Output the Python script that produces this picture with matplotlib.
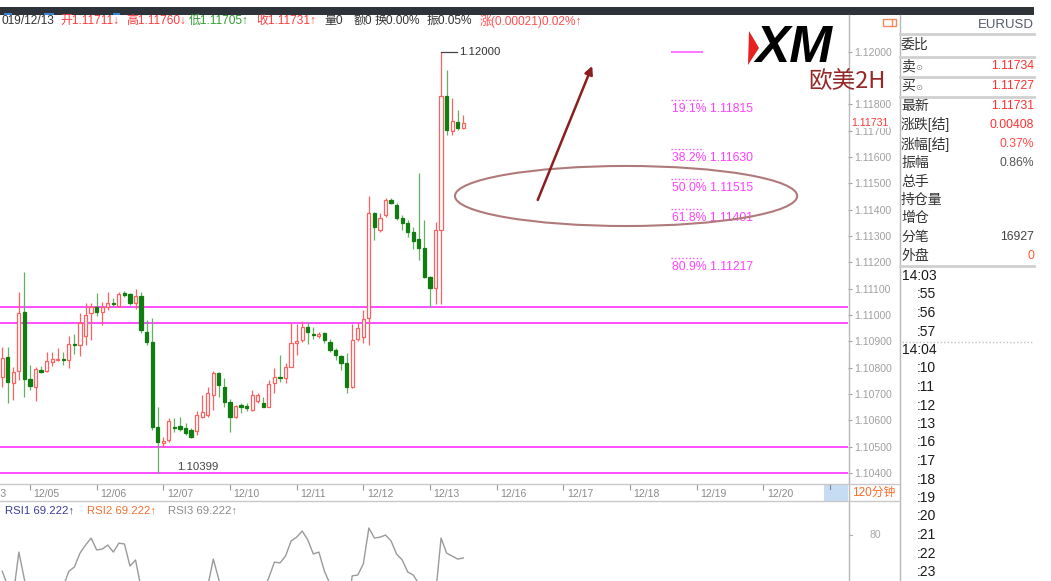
import matplotlib
matplotlib.use('Agg')
import matplotlib.pyplot as plt
from matplotlib.patches import Rectangle, Ellipse, Polygon
from matplotlib.ticker import FuncFormatter

W, H = 1051, 581
plt.rcParams['font.family'] = ['Liberation Sans', 'Noto Sans CJK SC', 'DejaVu Sans']

# ---------------- data ----------------
opens = [1.10766, 1.10839, 1.10743, 1.10789, 1.11010, 1.10756, 1.10728, 1.10791, 1.10789, 1.10823,
         1.10829, 1.10832, 1.10829, 1.10890, 1.10886, 1.10920, 1.11006, 1.11032, 1.11013, 1.11029,
         1.11044, 1.11034, 1.11082, 1.11080, 1.11047, 1.11072, 1.10937, 1.10899, 1.10573, 1.10515,
         1.10525, 1.10576, 1.10578, 1.10570, 1.10563, 1.10560, 1.10614, 1.10620, 1.10696, 1.10778,
         1.10725, 1.10671, 1.10614, 1.10657, 1.10653, 1.10639, 1.10673, 1.10667, 1.10652, 1.10740,
         1.10766, 1.10759, 1.10804, 1.10895, 1.10905, 1.10955, 1.10928, 1.10920, 1.10930, 1.10899,
         1.10867, 1.10844, 1.10819, 1.10728, 1.10907, 1.10917, 1.10987, 1.11386, 1.11323, 1.11380,
         1.11437, 1.11418, 1.11367, 1.11350, 1.11316, 1.11290, 1.11253, 1.11145, 1.11101, 1.11322,
         1.11833, 1.11698, 1.11734, 1.11711]
highs = [1.10880, 1.10880, 1.10804, 1.11089, 1.11165, 1.10810, 1.10801, 1.10806, 1.10861, 1.10861,
         1.10873, 1.10861, 1.10920, 1.10928, 1.11006, 1.11044, 1.11044, 1.11082, 1.11051, 1.11089,
         1.11063, 1.11089, 1.11092, 1.11085, 1.11098, 1.11089, 1.10981, 1.10987, 1.10652, 1.10535,
         1.10607, 1.10607, 1.10614, 1.10588, 1.10570, 1.10637, 1.10696, 1.10725, 1.10789, 1.10785,
         1.10759, 1.10680, 1.10659, 1.10667, 1.10665, 1.10715, 1.10702, 1.10690, 1.10753, 1.10797,
         1.10848, 1.10816, 1.10968, 1.10966, 1.10978, 1.10974, 1.10955, 1.10937, 1.10937, 1.10907,
         1.10873, 1.10848, 1.10854, 1.10966, 1.10971, 1.11019, 1.11452, 1.11392, 1.11386, 1.11443,
         1.11443, 1.11424, 1.11380, 1.11360, 1.11335, 1.11540, 1.11361, 1.11147, 1.11354, 1.12000,
         1.11930, 1.11823, 1.11778, 1.11760]
lows = [1.10728, 1.10667, 1.10677, 1.10753, 1.10687, 1.10715, 1.10675, 1.10778, 1.10782, 1.10806,
        1.10826, 1.10810, 1.10798, 1.10852, 1.10844, 1.10886, 1.10905, 1.10996, 1.10962, 1.11019,
        1.11034, 1.11032, 1.11070, 1.11038, 1.11021, 1.10933, 1.10886, 1.10563, 1.10399, 1.10500,
        1.10519, 1.10557, 1.10561, 1.10544, 1.10534, 1.10545, 1.10607, 1.10611, 1.10639, 1.10690,
        1.10652, 1.10557, 1.10607, 1.10629, 1.10635, 1.10635, 1.10667, 1.10649, 1.10649, 1.10702,
        1.10747, 1.10740, 1.10803, 1.10848, 1.10898, 1.10890, 1.10907, 1.10911, 1.10895, 1.10861,
        1.10829, 1.10793, 1.10702, 1.10721, 1.10902, 1.10895, 1.10886, 1.11285, 1.11316, 1.11373,
        1.11421, 1.11361, 1.11323, 1.11297, 1.11249, 1.11209, 1.11139, 1.11031, 1.11041, 1.11041,
        1.11683, 1.11683, 1.11702, 1.11705]
closes = [1.10835, 1.10747, 1.10785, 1.11006, 1.10756, 1.10730, 1.10794, 1.10785, 1.10826, 1.10832,
          1.10834, 1.10828, 1.10890, 1.10887, 1.10968, 1.11000, 1.11032, 1.11013, 1.11032, 1.11044,
          1.11040, 1.11080, 1.11076, 1.11044, 1.11072, 1.10943, 1.10899, 1.10573, 1.10519, 1.10520,
          1.10599, 1.10571, 1.10568, 1.10553, 1.10538, 1.10620, 1.10633, 1.10702, 1.10781, 1.10734,
          1.10671, 1.10614, 1.10654, 1.10652, 1.10648, 1.10696, 1.10696, 1.10652, 1.10738, 1.10766,
          1.10761, 1.10804, 1.10895, 1.10902, 1.10955, 1.10937, 1.10923, 1.10928, 1.10905, 1.10869,
          1.10848, 1.10816, 1.10725, 1.10905, 1.10949, 1.10983, 1.11386, 1.11335, 1.11367, 1.11437,
          1.11427, 1.11367, 1.11350, 1.11316, 1.11282, 1.11253, 1.11145, 1.11101, 1.11322, 1.11833,
          1.11702, 1.11738, 1.11711, 1.11731]
rsi = [63, 56, 52, 72, 59, 50, 53, 52, 55, 56,
       56, 56, 63, 65, 71.5, 75.3, 78.6, 73, 73.4, 75.3,
       72, 76.2, 75.8, 65.4, 68.3, 55, 50, 30, 27, 28,
       35, 33, 33, 31, 30, 40, 45, 56, 68.7, 59,
       52, 45, 50, 50, 49, 55, 57, 54, 60, 67.3,
       66.9, 70.1, 77.2, 79, 81.9, 77.7, 71.1, 72, 63, 57,
       52, 48, 40, 60.8, 61.2, 66.4, 83.3, 78.6, 79, 80,
       77.2, 71, 68.3, 62.6, 61.2, 57, 48, 43, 52, 78.6,
       71.5, 70.1, 68.7, 69.222]

date_labels = ["12/05", "12/06", "12/07", "12/10", "12/11", "12/12", "12/13",
               "12/16", "12/17", "12/18", "12/19", "12/20"]
first_day_bar = 5
bars_per_day = 12

support_levels = [1.11032, 1.10969, 1.10500, 1.10400]
fib_high = 1.12000
fib_pcts = ["19.1%", "38.2%", "50.0%", "61.8%", "80.9%"]
fib_vals = [1.11815, 1.11630, 1.11515, 1.11401, 1.11217]
price_ticks = [1.104, 1.105, 1.106, 1.107, 1.108, 1.109, 1.110, 1.111, 1.112,
               1.113, 1.114, 1.115, 1.116, 1.117, 1.118, 1.119, 1.120]
hidden_tick = 1.119          # covered by the "欧美2H" caption in the screenshot
high_value = 1.12000
low_value = 1.10399
last_price = 1.11731

header_texts = ["019/12/13", "开1.11711↓", "高1.11760↓", "低1.11705↑", "收1.11731↑",
                "量0", "额0", "换0.00%", "振0.05%", "涨(0.00021)0.02%↑"]
panel_labels = ["委比", "卖", "买", "最新", "涨跌[结]", "涨幅[结]", "振幅",
                "总手", "持仓量", "增仓", "分笔", "外盘"]
panel_values = ["", "1.11734", "1.11727", "1.11731", "0.00408", "0.37%", "0.86%",
                "", "", "", "16927", "0"]
tick_times = ["14:03", ":55", ":56", ":57", "14:04", ":10", ":11", ":12", ":13",
              ":16", ":17", ":18", ":19", ":20", ":21", ":22", ":23"]
rsi_labels = ["RSI1 69.222↑", "RSI2 69.222↑", "RSI3 69.222↑"]

# ---------------- styles ----------------
RED = '#ff6060'
RED_TXT = '#ff3535'
GREEN_BODY = '#0f7d0f'
GREEN_WICK = '#62b062'
MAGENTA = '#ff4dff'
DARK = '#333333'


def box(x0, y0, x1, y1):
    return [x0 / W, 1 - y1 / H, (x1 - x0) / W, (y1 - y0) / H]


fig = plt.figure(figsize=(W / 100, H / 100), dpi=100)
fig.patch.set_facecolor('white')

XLIM = (-0.4, 152.25)

# ---------------- main price axes ----------------
ax = fig.add_axes(box(0, 28, 848, 483))
ax.set_xlim(*XLIM)
ax.set_ylim(1.10362, 1.12090)
for s in ax.spines.values():
    s.set_visible(False)
ax.set_xticks([])
ax.yaxis.tick_right()
ax.set_yticks(price_ticks)
ax.yaxis.set_major_formatter(FuncFormatter(
    lambda v, pos: '' if abs(v - hidden_tick) < 1e-7 else f"{v:.5f}"))
ax.tick_params(axis='y', direction='out', length=3, width=0.8, colors='#a0a0a0',
               labelsize=7.6, pad=1.5)

for lvl in support_levels:
    ax.axhline(lvl, color=MAGENTA, lw=1.4, zorder=1)

bw = 0.58
for k, (o, h, l, c) in enumerate(zip(opens, highs, lows, closes)):
    up = c >= o
    if up:
        ax.vlines(k, l, h, color=RED, lw=0.9, zorder=2)
        ax.add_patch(Rectangle((k - bw / 2, min(o, c)), bw, max(abs(c - o), 0.000008),
                               facecolor='white', edgecolor=RED, lw=0.9, zorder=3))
    else:
        ax.vlines(k, l, h, color=GREEN_WICK, lw=0.9, zorder=2)
        ax.add_patch(Rectangle((k - bw / 2, min(o, c)), bw, max(abs(c - o), 0.000008),
                               facecolor=GREEN_BODY, edgecolor=GREEN_BODY, lw=0.9, zorder=3))

# high / low labels
k_hi = highs.index(max(highs))
k_lo = lows.index(min(lows))
ax.plot([k_hi, k_hi + 2.85], [high_value, high_value], color='#444444', lw=0.9, zorder=4)
ax.text(k_hi + 3.2, high_value, f"{high_value:.5f}", ha='left', va='center',
        fontsize=8.2, color=DARK, zorder=4)
ax.text(k_lo + 3.5, low_value + 0.00024, f"{low_value:.5f}", ha='left', va='center',
        fontsize=8.2, color='#444444', zorder=4)

# fibonacci
fx0, fx1 = 120.3, 126.2
ax.hlines(fib_high, fx0, fx1, color=MAGENTA, lw=1.1)
for p, v in zip(fib_pcts, fib_vals):
    ax.hlines(v, fx0, fx1, color=MAGENTA, lw=1.0, linestyles=(0, (1, 1.6)))
    ax.annotate(f"{p} {v:.5f}", xy=(fx0 + 0.3, v), xytext=(0, -2.0),
                textcoords='offset points', ha='left', va='top', fontsize=8.8,
                color='#ff40ff')

# drawing annotations
ax.add_patch(Ellipse((112.3, 1.11452), 61.6, 0.00228, fill=False,
                     edgecolor='#b07a7a', lw=1.5, zorder=5))
ax.annotate('', xy=(106.2, 1.11946), xytext=(96.4, 1.11437),
            arrowprops=dict(arrowstyle='-|>', color='#8b1e1e', lw=1.8,
                            mutation_scale=12, shrinkA=0, shrinkB=0), zorder=5)

# ---------------- date strip ----------------
axd = fig.add_axes(box(0, 484, 848, 501))
axd.set_xlim(*XLIM)
axd.set_ylim(0, 1)
axd.axis('off')
for i, lab in enumerate(date_labels):
    k = first_day_bar + bars_per_day * i
    axd.vlines(k, 0.66, 1.0, color='#9a9a9a', lw=0.8)
    axd.text(k + 0.65, 0.42, lab, ha='left', va='center', fontsize=7.5,
             color='#8a8a8a', clip_on=True)
axd.text(0.8, 0.42, "12/03", ha='right', va='center', fontsize=7.5,
         color='#8a8a8a', clip_on=True)

# ---------------- RSI panel ----------------
axr = fig.add_axes(box(0, 501, 848, 581))
axr.set_xlim(*XLIM)
axr.set_ylim(58.4, 96.0)
axr.axis('off')
axr.plot(range(len(rsi)), rsi, color='#9a9a9a', lw=1.0)

# ---------------- UI overlay (pixel space) ----------------
au = fig.add_axes([0, 0, 1, 1], zorder=10)
au.set_xlim(0, W)
au.set_ylim(H, 0)
au.axis('off')
au.patch.set_alpha(0)

# top dark toolbar
au.add_patch(Rectangle((0, 7), 1034, 8, facecolor='#2e333a', edgecolor='none'))
for bx, bwid in [(4, 8), (44, 10), (113, 7)]:
    au.add_patch(Rectangle((bx, 12.5), bwid, 2.5, facecolor='#3d80d8', edgecolor='none'))

# frame lines
au.plot([848.5, 848.5], [15, 581], color='#b8b8b8', lw=1)
au.plot([899.5, 899.5], [15, 581], color='#b8b8b8', lw=1)
au.plot([0, 899.5], [484, 484], color='#c8c8c8', lw=1)
au.plot([0, 899.5], [501, 501], color='#c8c8c8', lw=1)

# header
red_h = '#ff3b3b'
green_h = '#2e9e2e'
header_colors = [DARK, red_h, red_h, green_h, red_h, DARK, DARK, DARK, DARK, '#ff5050']
header_x = [1, 60, 126, 189, 256, 324, 354, 375, 427, 480]
for t, col, hx in zip(header_texts, header_colors, header_x):
    au.text(hx, 21, t, ha='left', va='center', fontsize=8.6, color=col)

# small icon top right of chart
au.add_patch(Rectangle((883, 18.5), 13, 7, fill=False, edgecolor='#f08a5a', lw=1))
au.plot([892, 892], [18.5, 25.5], color='#f08a5a', lw=1)

# current price marker
au.text(851, 122.5, f"{last_price:.5f}", ha='left', va='center', fontsize=7.6,
        color=RED_TXT, bbox=dict(facecolor='white', edgecolor='none', pad=0.6))

# XM logo
au.add_patch(Polygon([(749, 31), (759, 48), (748, 65)], closed=True,
                     facecolor='#e82020', edgecolor='none'))
au.text(755, 48, "XM", ha='left', va='center', fontsize=37, fontweight='bold',
        fontstyle='italic', color='black', family=['Liberation Sans', 'DejaVu Sans'])
au.text(808, 82, "欧美2H", ha='left', va='center', fontsize=17, color='#962828',
        family=['Noto Sans CJK SC', 'DejaVu Sans'])

# bottom-left price box / timeframe
au.add_patch(Rectangle((824, 484.5), 24, 16, facecolor='#c6dcf2', edgecolor='none'))
au.plot([830, 830], [484.5, 489], color='#7a8a9a', lw=0.8)
au.text(874, 492.5, "120分钟", ha='center', va='center', fontsize=8.5, color='#ff6a2a')
au.plot([848.5, 851.5], [535, 535], color='#b0b0b0', lw=0.8)
au.text(875, 535, "80", ha='center', va='center', fontsize=7.5, color='#a8a8a8')

# RSI labels
rsi_colors = ['#3c3c9c', '#f07030', '#8c8c8c']
for t, col, rx in zip(rsi_labels, rsi_colors, [5, 87, 168]):
    au.text(rx, 510, t, ha='left', va='center', fontsize=8.2, color=col)

# right info panel
au.text(1034, 25, "EURUSD", ha='right', va='center', fontsize=9.5, color='#555a66')
for sy in [34, 57, 77, 97, 265.5]:
    au.plot([900, 1034], [sy, sy], color='#d0d0d0', lw=2)
row_y = [45, 66, 86, 106, 125, 144, 163, 182, 200, 218, 237, 256]
value_colors = [DARK, '#ff3030', '#ff3030', '#ff3030', '#ff3030', '#ff4848', '#555555',
                DARK, DARK, DARK, '#444444', '#ff5a2a']
for lab, val, vc, ry in zip(panel_labels, panel_values, value_colors, row_y):
    au.text(901, ry, lab, ha='left', va='center', fontsize=10, color='#333333')
    if lab in ("卖", "买"):
        au.text(915, ry + 1, "⊙", ha='left', va='center', fontsize=6, color='#888888',
                family=['DejaVu Sans'])
    if val:
        au.text(1034, ry, val, ha='right', va='center', fontsize=8.8, color=vc)

for i, t in enumerate(tick_times):
    ty = 276 + 18.5 * i
    tx = 902 if not t.startswith(':') else 917
    au.text(tx, ty, t, ha='left', va='center', fontsize=10, color='#1a1a1a')
au.plot([902, 1032], [341.5, 341.5], color='#c0c0c0', lw=1, linestyle=(0, (1, 1.5)))

fig.savefig('out.png', dpi=100, facecolor='white')
